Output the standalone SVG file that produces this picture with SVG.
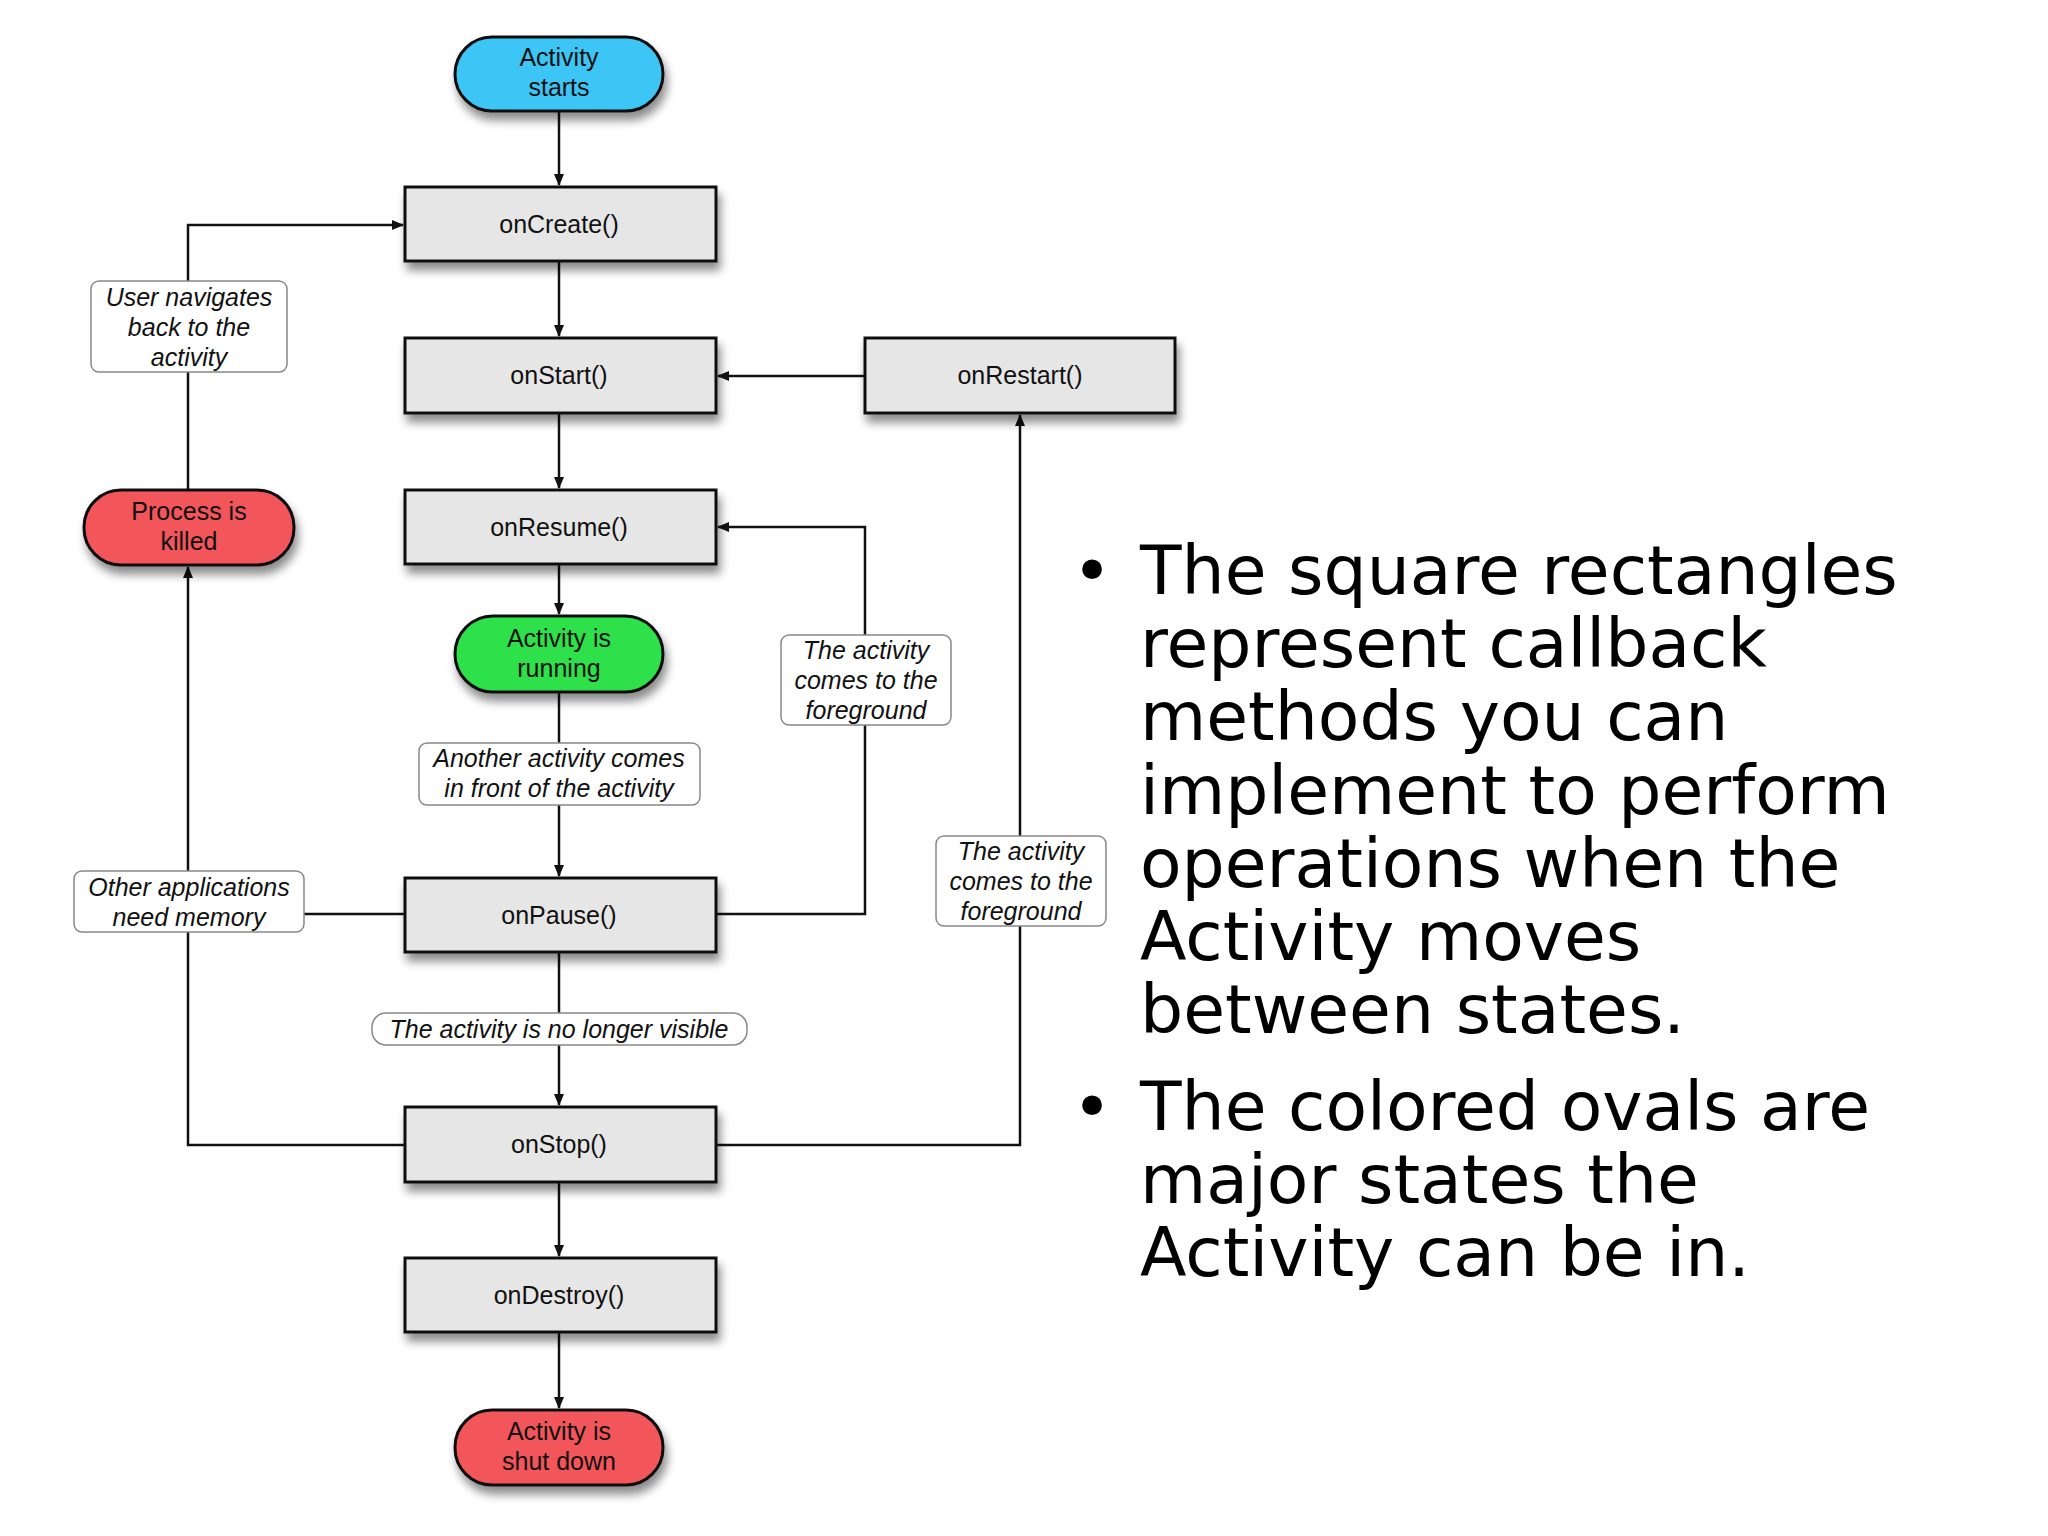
<svg xmlns="http://www.w3.org/2000/svg" width="2048" height="1536" viewBox="0 0 2048 1536">
<style>
.box{fill:#e6e6e6;stroke:#111;stroke-width:3}
.ov{stroke:#111;stroke-width:3}
.t{font-family:"Liberation Sans",Arial,sans-serif;font-size:25px;text-anchor:middle;fill:#111}
.lb{fill:#fff;stroke:#888;stroke-width:1.5}
.li{font-family:"Liberation Sans",Arial,sans-serif;font-size:25px;font-style:italic;text-anchor:middle;fill:#111}
.c{fill:none;stroke:#111;stroke-width:2.5}
.b{font-family:"DejaVu Sans",sans-serif;font-size:68px;fill:#000}
</style>
<defs>
<marker id="a" markerWidth="12" markerHeight="10" refX="11" refY="5" orient="auto" markerUnits="userSpaceOnUse"><path d="M0,0 L12,5 L0,10 z" fill="#111"/></marker>
<filter id="sh" x="-10%" y="-10%" width="130%" height="150%"><feDropShadow dx="3" dy="8" stdDeviation="5" flood-color="#000" flood-opacity="0.45"/></filter>
</defs>
<rect width="2048" height="1536" fill="#fff"/>
<g id="connectors">
<path class="c" d="M559,111 V185" marker-end="url(#a)"/>
<path class="c" d="M559,261 V336" marker-end="url(#a)"/>
<path class="c" d="M559,413 V488" marker-end="url(#a)"/>
<path class="c" d="M559,564 V614" marker-end="url(#a)"/>
<path class="c" d="M559,692 V876" marker-end="url(#a)"/>
<path class="c" d="M559,952 V1105" marker-end="url(#a)"/>
<path class="c" d="M559,1182 V1256" marker-end="url(#a)"/>
<path class="c" d="M559,1332 V1408" marker-end="url(#a)"/>
<path class="c" d="M865,376 H718" marker-end="url(#a)"/>
<path class="c" d="M716,914 H865 V527 H718" marker-end="url(#a)"/>
<path class="c" d="M716,1145 H1020 V415" marker-end="url(#a)"/>
<path class="c" d="M405,1145 H188 V567" marker-end="url(#a)"/>
<path class="c" d="M405,914 H188"/>
<path class="c" d="M188,490 V225 H403" marker-end="url(#a)"/>
</g>
<g id="lbl-user"><rect class="lb" x="91" y="281" width="196" height="91" rx="8"/><text class="li" x="189" y="306">User navigates</text><text class="li" x="189" y="336">back to the</text><text class="li" x="189" y="366">activity</text></g>
<g id="lbl-fg1"><rect class="lb" x="781" y="635" width="170" height="90" rx="8"/><text class="li" x="866" y="659">The activity</text><text class="li" x="866" y="689">comes to the</text><text class="li" x="866" y="719">foreground</text></g>
<g id="lbl-another"><rect class="lb" x="419" y="743" width="281" height="62" rx="8"/><text class="li" x="559" y="767">Another activity comes</text><text class="li" x="559" y="797">in front of the activity</text></g>
<g id="lbl-other"><rect class="lb" x="74" y="871" width="230" height="61" rx="8"/><text class="li" x="189" y="896">Other applications</text><text class="li" x="189" y="926">need memory</text></g>
<g id="lbl-fg2"><rect class="lb" x="936" y="836" width="170" height="90" rx="8"/><text class="li" x="1021" y="860">The activity</text><text class="li" x="1021" y="890">comes to the</text><text class="li" x="1021" y="920">foreground</text></g>
<g id="lbl-novis"><rect class="lb" x="372" y="1013" width="375" height="32" rx="14"/><text class="li" x="559" y="1038">The activity is no longer visible</text></g>
<g id="start"><rect class="ov" x="455" y="37" width="208" height="74" rx="37" fill="#3cc6f5" filter="url(#sh)"/><text class="t" x="559" y="66">Activity</text><text class="t" x="559" y="96">starts</text></g>
<g id="onCreate"><rect class="box" x="405" y="187" width="311" height="74" filter="url(#sh)"/><text class="t" x="559" y="233">onCreate()</text></g>
<g id="onStart"><rect class="box" x="405" y="338" width="311" height="75" filter="url(#sh)"/><text class="t" x="559" y="384">onStart()</text></g>
<g id="onRestart"><rect class="box" x="865" y="338" width="310" height="75" filter="url(#sh)"/><text class="t" x="1020" y="384">onRestart()</text></g>
<g id="onResume"><rect class="box" x="405" y="490" width="311" height="74" filter="url(#sh)"/><text class="t" x="559" y="536">onResume()</text></g>
<g id="running"><rect class="ov" x="455" y="616" width="208" height="76" rx="38" fill="#2ee04a" filter="url(#sh)"/><text class="t" x="559" y="647">Activity is</text><text class="t" x="559" y="677">running</text></g>
<g id="killed"><rect class="ov" x="84" y="490" width="210" height="75" rx="37" fill="#f2555a" filter="url(#sh)"/><text class="t" x="189" y="520">Process is</text><text class="t" x="189" y="550">killed</text></g>
<g id="onPause"><rect class="box" x="405" y="878" width="311" height="74" filter="url(#sh)"/><text class="t" x="559" y="924">onPause()</text></g>
<g id="onStop"><rect class="box" x="405" y="1107" width="311" height="75" filter="url(#sh)"/><text class="t" x="559" y="1153">onStop()</text></g>
<g id="onDestroy"><rect class="box" x="405" y="1258" width="311" height="74" filter="url(#sh)"/><text class="t" x="559" y="1304">onDestroy()</text></g>
<g id="shutdown"><rect class="ov" x="455" y="1410" width="208" height="75" rx="37" fill="#f2555a" filter="url(#sh)"/><text class="t" x="559" y="1440">Activity is</text><text class="t" x="559" y="1470">shut down</text></g>
<g id="bullets">
<text class="b" x="1072" y="594">•</text>
<text class="b" x="1140" y="594">The square rectangles</text>
<text class="b" x="1140" y="667">represent callback</text>
<text class="b" x="1140" y="740">methods you can</text>
<text class="b" x="1140" y="814">implement to perform</text>
<text class="b" x="1140" y="887">operations when the</text>
<text class="b" x="1140" y="960">Activity moves</text>
<text class="b" x="1140" y="1033">between states.</text>
<text class="b" x="1072" y="1130">•</text>
<text class="b" x="1140" y="1130">The colored ovals are</text>
<text class="b" x="1140" y="1203">major states the</text>
<text class="b" x="1140" y="1276">Activity can be in.</text>
</g>
</svg>
